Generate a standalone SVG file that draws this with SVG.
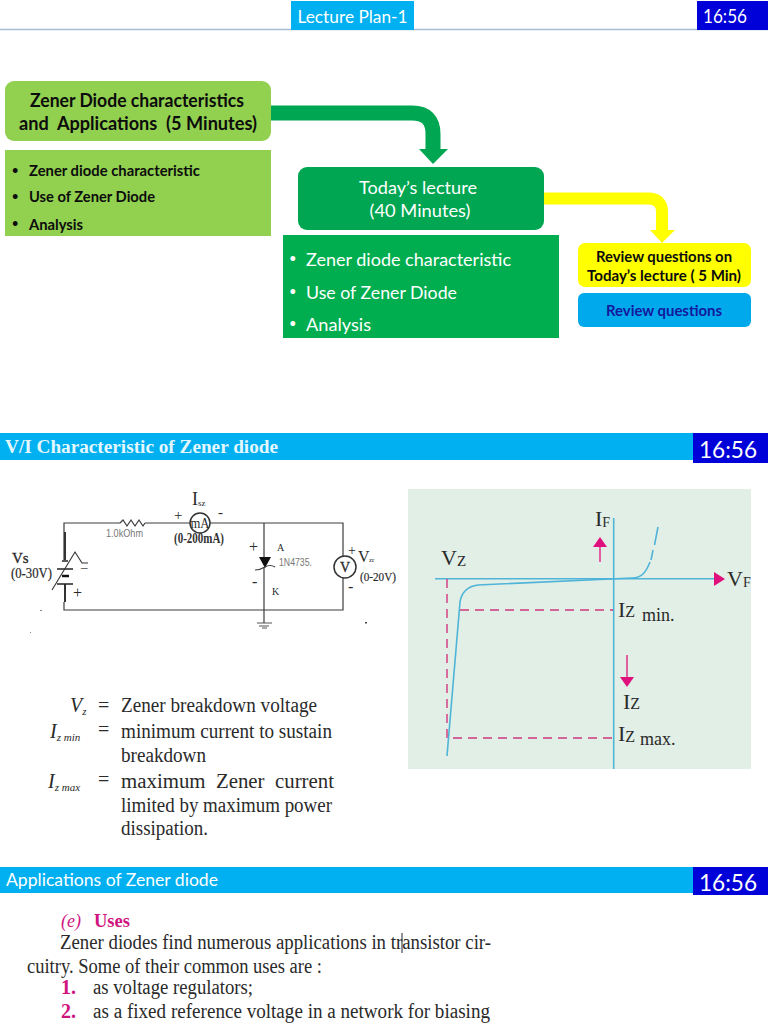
<svg xmlns="http://www.w3.org/2000/svg" width="768" height="1024" viewBox="0 0 768 1024">
<style>
.s{font-family:"Lato","Liberation Sans",sans-serif}
.b{font-weight:700;fill:#0c0c0c}
.w{fill:#fff}
.t{font-family:"Liberation Serif",serif;fill:#2a2a2a}
.g{font-family:"Liberation Sans",sans-serif;fill:#777;font-size:11px}
.wire{fill:none;stroke:#3c3c3c;stroke-width:1.2}
.blue{fill:none;stroke:#4fb4d8;stroke-width:1.6}
.dash{fill:none;stroke:#d0387f;stroke-width:1.4;stroke-dasharray:9 6}
.pk{fill:#e0107c}
.pks{stroke:#e0107c;stroke-width:1.3;fill:none}
.hd{fill:#00b0f0}
.tm{fill:#0000d8}
</style>
<rect width="768" height="1024" fill="#fff"/>
<g id="header-1">
<line x1="0" y1="29.500" x2="768" y2="29.500" stroke="#a9bcd8" stroke-width="1.500"/>
<rect x="291" y="1" width="123" height="29" class="hd"/>
<text x="352.500" y="23" text-anchor="middle" class="s w" font-size="18" textLength="110" lengthAdjust="spacingAndGlyphs">Lecture Plan-1</text>
<rect x="697" y="1" width="71" height="29" class="tm"/>
<text x="725" y="23" text-anchor="middle" class="s w" font-size="19" textLength="44" lengthAdjust="spacingAndGlyphs">16:56</text>
</g>
<g id="connectors">
<path d="M271 113H412Q433 113 433 134V152" fill="none" stroke="#00a651" stroke-width="15"/>
<polygon points="419,149 448,149 433,164" fill="#00a651"/>
<path d="M544 198.500H648Q662 198.500 662 212V234" fill="none" stroke="#ffff00" stroke-width="12"/>
<polygon points="650,230 675,230 662,243" fill="#ffff00"/>
</g>
<g id="node-prev">
<rect x="5" y="81" width="266" height="60" rx="9" fill="#92d050"/>
<text x="137" y="107" text-anchor="middle" class="s b" font-size="18" textLength="214" lengthAdjust="spacingAndGlyphs">Zener Diode characteristics</text>
<text x="138" y="130" text-anchor="middle" class="s b" font-size="18" textLength="238" lengthAdjust="spacingAndGlyphs" xml:space="preserve">and  Applications  (5 Minutes)</text>
</g>
<g id="node-prev-list">
<rect x="5" y="150" width="266" height="86" fill="#92d050"/>
<g class="s b" font-size="15">
<text x="12" y="174" font-size="11">•</text><text x="29" y="176" textLength="171" lengthAdjust="spacingAndGlyphs">Zener diode characteristic</text>
<text x="12" y="200" font-size="11">•</text><text x="29" y="202" textLength="126" lengthAdjust="spacingAndGlyphs">Use of Zener Diode</text>
<text x="12" y="227" font-size="11">•</text><text x="29" y="230" textLength="54" lengthAdjust="spacingAndGlyphs">Analysis</text>
</g>
</g>
<g id="node-today">
<rect x="298" y="167" width="246" height="63" rx="9" fill="#00a651"/>
<text x="418" y="194" text-anchor="middle" class="s w" font-size="17.500" textLength="118" lengthAdjust="spacingAndGlyphs">Today’s lecture</text>
<text x="420" y="217" text-anchor="middle" class="s w" font-size="17.500" textLength="101" lengthAdjust="spacingAndGlyphs">(40 Minutes)</text>
</g>
<g id="node-today-list">
<rect x="283" y="235" width="276" height="103" fill="#00ae4f"/>
<g class="s w" font-size="18">
<text x="289" y="263" font-size="13">•</text><text x="306" y="266" textLength="205" lengthAdjust="spacingAndGlyphs">Zener diode characteristic</text>
<text x="289" y="296" font-size="13">•</text><text x="306" y="299" textLength="151" lengthAdjust="spacingAndGlyphs">Use of Zener Diode</text>
<text x="289" y="328" font-size="13">•</text><text x="306" y="331" textLength="65" lengthAdjust="spacingAndGlyphs">Analysis</text>
</g>
</g>
<g id="node-review">
<rect x="578" y="243" width="173" height="44" rx="7" fill="#ffff00"/>
<text x="664" y="262" text-anchor="middle" class="s b" font-size="15" textLength="136" lengthAdjust="spacingAndGlyphs">Review questions on</text>
<text x="664" y="281" text-anchor="middle" class="s b" font-size="15" textLength="154" lengthAdjust="spacingAndGlyphs">Today’s lecture ( 5 Min)</text>
</g>
<g id="node-review-q">
<rect x="578" y="293" width="173" height="34" rx="6" fill="#00a8ec"/>
<text x="664" y="316" text-anchor="middle" class="s" font-weight="700" fill="#14189c" font-size="15" textLength="116" lengthAdjust="spacingAndGlyphs">Review questions</text>
</g>
<g id="header-2">
<rect x="0" y="433" width="693" height="27" class="hd"/>
<text x="5" y="453" font-family="Liberation Serif,serif" font-weight="700" fill="#e4f7ff" font-size="18" textLength="273" lengthAdjust="spacingAndGlyphs">V/I Characteristic of Zener diode</text>
<rect x="693" y="433" width="75" height="30" class="tm"/>
<text x="728" y="458" text-anchor="middle" class="s w" font-size="23" textLength="58" lengthAdjust="spacingAndGlyphs">16:56</text>
</g>
<g id="circuit">
<path class="wire" d="M64 560V523H120M145 523H190M210 523H343V610H64V602M264 523V557M264 567V623"/>
<path class="wire" d="M120 523l3-3 4 6 4-6 4 6 4-6 4 6 2-3"/>
<path d="M65 532V560M65 584V602" stroke="#333" stroke-width="2" fill="none"/>
<path d="M62 561H68M57 569H73M57 584H73" stroke="#222" stroke-width="1.300" fill="none"/>
<path d="M62 576H69" stroke="#111" stroke-width="2.500" fill="none"/>
<path d="M52 590L75 552L82 563H88" stroke="#333" stroke-width="1.100" fill="none"/>
<circle cx="200" cy="523" r="10" fill="#fff" stroke="#333" stroke-width="1.500"/>
<circle cx="345" cy="567" r="11" fill="#fff" stroke="#333" stroke-width="1.500"/>
<polygon points="259,557 271,557 265,568" fill="#111"/>
<path d="M255 570Q260 570 265 567T275 567" class="wire"/>
<path d="M257 623H272M259 626H269M262 628H267" stroke="#555" stroke-width="1" fill="none"/>
<rect x="40" y="610" width="2" height="1" fill="#888"/><rect x="30" y="632" width="1" height="1" fill="#888"/><rect x="365" y="622" width="2" height="1.500" fill="#444"/>
<g class="t">
<text x="192" y="505" font-size="18">I</text><text x="198" y="506" font-size="9">sz</text>
<text x="174" y="520" font-size="15">+</text><text x="218" y="517" font-size="15">-</text>
<text x="200" y="528" font-size="14" text-anchor="middle" textLength="19" lengthAdjust="spacingAndGlyphs">mA</text>
<text x="174" y="543" font-size="14" font-weight="700" fill="#333" textLength="50" lengthAdjust="spacingAndGlyphs">(0-200mA)</text>
<text x="12" y="563" font-size="15" stroke="#2a2a2a" stroke-width=".3">Vs</text>
<text x="11" y="578" font-size="14" stroke="#2a2a2a" stroke-width=".2" textLength="41" lengthAdjust="spacingAndGlyphs">(0-30V)</text>
<text x="81" y="567" font-size="13">_</text>
<text x="73" y="598" font-size="16">+</text>
<text x="249" y="552" font-size="16">+</text><text x="252" y="587" font-size="16">-</text>
<text x="277" y="551" font-size="10">A</text>
<text x="272" y="595" font-size="10">K</text>
<text x="345" y="572" font-size="14" text-anchor="middle" stroke="#2a2a2a" stroke-width=".3">V</text>
<text x="348" y="555" font-size="14">+</text>
<text x="358" y="562" font-size="16">V</text><text x="369" y="562" font-size="7">zr</text>
<text x="360" y="581" font-size="13" stroke="#2a2a2a" stroke-width=".2" textLength="36" lengthAdjust="spacingAndGlyphs">(0-20V)</text>
<text x="348" y="592" font-size="16">-</text>
</g>
<text x="106" y="537" class="g" textLength="37" lengthAdjust="spacingAndGlyphs">1.0kOhm</text>
<text x="279" y="566" class="g" textLength="33" lengthAdjust="spacingAndGlyphs">1N4735.</text>
</g>
<g id="chart">
<rect x="408" y="489" width="343" height="280" fill="#e2efe6"/>
<line class="blue" x1="613.700" y1="518" x2="613.700" y2="769"/>
<line class="blue" x1="435" y1="578.700" x2="716" y2="578.700"/>
<polygon class="pk" points="714,572 725,579 714,586"/>
<path class="dash" d="M447 579V738H613M460 610H613"/>
<path class="blue" d="M447 756L460 602C462 590 470 586 478 585L632 578C642 578 646 572 650 562"/>
<path class="blue" d="M651 560L653 550M654.500 545L658 527"/>
<line class="pks" x1="600" y1="562" x2="600" y2="545"/>
<polygon class="pk" points="593,547 607,547 600,537"/>
<line class="pks" x1="627" y1="655" x2="627" y2="678"/>
<polygon class="pk" points="620,677 634,677 627,687"/>
<g class="t" font-size="22">
<text x="595" y="526">I<tspan font-size="14" dy="1">F</tspan></text>
<text x="441" y="565">V<tspan font-size="15" dy="1">Z</tspan></text>
<text x="727" y="586">V<tspan font-size="14" dy="1">F</tspan></text>
<text x="618" y="617">I<tspan font-size="16">Z</tspan></text>
<text x="642" y="621" font-size="18">min.</text>
<text x="623" y="709">I<tspan font-size="16">Z</tspan></text>
<text x="618" y="741">I<tspan font-size="16" dy="1">Z</tspan></text>
<text x="640" y="745" font-size="18">max.</text>
</g>
</g>
<g id="definitions" class="t" font-size="20">
<text x="70" y="712" font-style="italic">V<tspan font-size="11" dy="3">z</tspan></text>
<text x="50" y="738" font-style="italic">I<tspan font-size="11" dy="3">z min</tspan></text>
<text x="48" y="788" font-style="italic">I<tspan font-size="11" dy="3">z max</tspan></text>
<text x="98" y="712">=</text><text x="98" y="736">=</text><text x="98" y="786">=</text>
<text x="121" y="712" textLength="196" lengthAdjust="spacingAndGlyphs">Zener breakdown voltage</text>
<text x="121" y="738" textLength="211" lengthAdjust="spacingAndGlyphs">minimum current to sustain</text>
<text x="121" y="762" textLength="85" lengthAdjust="spacingAndGlyphs">breakdown</text>
<text x="121" y="788" textLength="213" lengthAdjust="spacingAndGlyphs" xml:space="preserve">maximum  Zener  current</text>
<text x="121" y="812" textLength="211" lengthAdjust="spacingAndGlyphs">limited by maximum power</text>
<text x="121" y="835" textLength="87" lengthAdjust="spacingAndGlyphs">dissipation.</text>
</g>
<g id="header-3">
<rect x="0" y="867" width="693" height="26" class="hd"/>
<text x="6" y="886" class="s w" font-size="18" textLength="212" lengthAdjust="spacingAndGlyphs">Applications of Zener diode</text>
<rect x="693" y="867" width="75" height="28" class="tm"/>
<text x="728" y="891" text-anchor="middle" class="s w" font-size="23" textLength="58" lengthAdjust="spacingAndGlyphs">16:56</text>
</g>
<g id="uses" class="t" font-size="20">
<text x="61" y="927" fill="#d0147f" font-size="18" font-style="italic">(e)</text>
<text x="94" y="927" font-weight="700" fill="#d0147f" font-size="18" textLength="36" lengthAdjust="spacingAndGlyphs">Uses</text>
<text x="60" y="949" textLength="431" lengthAdjust="spacingAndGlyphs">Zener diodes find numerous applications in transistor cir-</text>
<line x1="402" y1="933" x2="402" y2="953" stroke="#223" stroke-width="1"/>
<text x="27" y="973" textLength="295" lengthAdjust="spacingAndGlyphs">cuitry. Some of their common uses are :</text>
<text x="61" y="994" font-weight="700" fill="#d0147f">1.</text>
<text x="93" y="994" textLength="160" lengthAdjust="spacingAndGlyphs">as voltage regulators;</text>
<text x="61" y="1018" font-weight="700" fill="#d0147f">2.</text>
<text x="93" y="1018" textLength="397" lengthAdjust="spacingAndGlyphs">as a fixed reference voltage in a network for biasing</text>
</g>
</svg>
